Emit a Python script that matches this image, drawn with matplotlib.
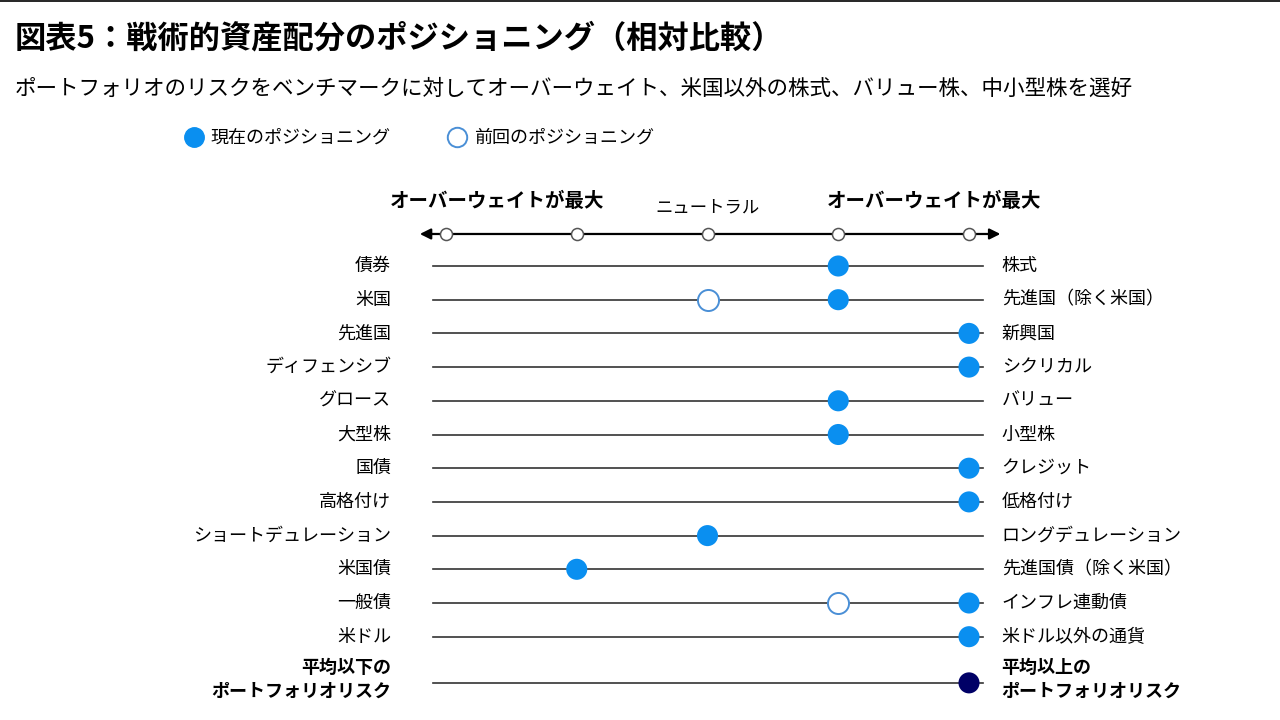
import matplotlib
matplotlib.use("Agg")
import matplotlib.pyplot as plt
from matplotlib.lines import Line2D

plt.rcParams['font.family'] = ['Noto Sans CJK JP', 'DejaVu Sans']

# ---- data ----
left_labels = ["債券", "米国", "先進国", "ディフェンシブ", "グロース", "大型株", "国債",
               "高格付け", "ショートデュレーション", "米国債", "一般債", "米ドル",
               "平均以下の\nポートフォリオリスク"]
right_labels = ["株式", "先進国（除く米国）", "新興国", "シクリカル", "バリュー", "小型株",
                "クレジット", "低格付け", "ロングデュレーション", "先進国債（除く米国）",
                "インフレ連動債", "米ドル以外の通貨", "平均以上の\nポートフォリオリスク"]
# scale: -2 (left max) .. 0 (neutral) .. +2 (right max)
current = [1, 1, 2, 2, 1, 1, 2, 2, 0, -1, 2, 2, 2]
previous = [None, 0, None, None, None, None, None, None, None, None, 1, None, None]
scale_ticks = [-2, -1, 0, 1, 2]

title = "図表5：戦術的資産配分のポジショニング（相対比較）"
subtitle = ("ポートフォリオのリスクをベンチマークに対してオーバーウェイト、"
            "米国以外の株式、バリュー株、中小型株を選好")

BLUE = "#0a8ff0"
NAVY = "#000066"
EDGE = "#4a8fd6"

fig = plt.figure(figsize=(12.8, 7.2), dpi=100)
ax = fig.add_axes([0, 0, 1, 1])
# pixel -> data: x=(px-707.5)/130.75, y=(py-266)/33.7
ax.set_xlim((0 - 707.5) / 130.75, (1280 - 707.5) / 130.75)
ax.set_ylim((720 - 266) / 33.7, (0 - 266) / 33.7)
ax.axis("off")

n = len(left_labels)
# last (summary) row sits a bit further down
rows = [float(i) for i in range(n - 1)] + [n - 1 + 0.37]

# row lines and labels
for i, y in enumerate(rows):
    ax.plot([-2.1, 2.105], [y, y], color="#333333", lw=1.2, zorder=1)
    last = (i == n - 1)
    ax.text(-2.42, y - (0.1 if last else 0), left_labels[i], ha="right", va="center",
            fontsize=13, fontweight="bold" if last else "normal", linespacing=1.3)
    ax.text(2.25, y - (0.1 if last else 0), right_labels[i], ha="left", va="center",
            fontsize=13, fontweight="bold" if last else "normal", linespacing=1.3)

# previous positions
px = [previous[i] for i in range(n) if previous[i] is not None]
py = [rows[i] for i in range(n) if previous[i] is not None]
ax.scatter(px, py, s=230, facecolor="white", edgecolor=EDGE, lw=1.4, zorder=3)

# current positions
colors = [BLUE] * (n - 1) + [NAVY]
ax.scatter(current, rows, s=230, c=colors, edgecolor="none", zorder=4)

# header scale
hy = -0.95
ax.annotate("", xy=(-2.2, hy), xytext=(2.24, hy),
            arrowprops=dict(arrowstyle="<|-|>", color="black", lw=1.6,
                            mutation_scale=16, shrinkA=0, shrinkB=0))
ax.scatter(scale_ticks, [hy] * len(scale_ticks), s=75, facecolor="white",
           edgecolor="#555555", lw=1.1, zorder=3)
ax.text(-1.61, -1.93, "オーバーウェイトが最大", ha="center", va="center",
        fontsize=14, fontweight="bold")
ax.text(1.73, -1.93, "オーバーウェイトが最大", ha="center", va="center",
        fontsize=14, fontweight="bold")
ax.text(0, -1.75, "ニュートラル", ha="center", va="center", fontsize=12.5)

# top border
fig.add_artist(Line2D([0, 1], [0.998, 0.998], color="black", lw=1.2))

# title / subtitle
fig.text(15 / 1280, 1 - 38 / 720, title, ha="left", va="center",
         fontsize=22.5, fontweight="bold")
fig.text(15 / 1280, 1 - 89 / 720, subtitle, ha="left", va="center", fontsize=15.5)

# legend
handles = [
    Line2D([], [], ls="none", marker="o", ms=14, mfc=BLUE, mec=BLUE),
    Line2D([], [], ls="none", marker="o", ms=14, mfc="white", mec=EDGE, mew=1.4),
]
fig.legend(handles, ["現在のポジショニング", "前回のポジショニング"], ncol=2,
           loc="center left", bbox_to_anchor=(178 / 1280, 1 - 138 / 720),
           frameon=False, fontsize=13, handletextpad=0.4, columnspacing=3.2,
           borderaxespad=0, handlelength=1.0)

fig.savefig("out.png", dpi=100)
